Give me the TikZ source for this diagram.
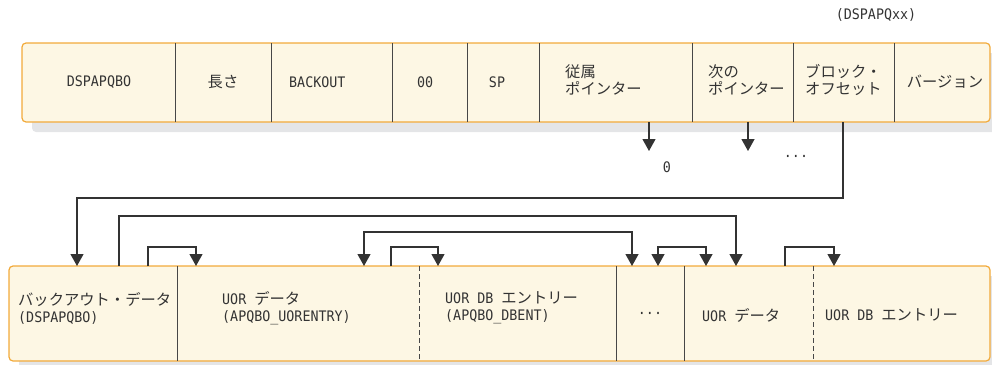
\documentclass[tikz,border=0pt]{standalone}
\usepackage{fontspec}
\setmainfont[FakeStretch=0.92]{DejaVu Sans Mono}
\newfontfamily\jpfont[Scale=1.055]{Noto Sans CJK JP}
\newcommand{\jp}[1]{{\jpfont #1}}
\usetikzlibrary{arrows.meta,shadows}
\definecolor{recfill}{HTML}{FDF7E4}
\definecolor{recline}{HTML}{F2AA3A}
\definecolor{recshade}{HTML}{E4E5E7}
\definecolor{ink}{HTML}{333333}

\begin{document}
\begin{tikzpicture}[x=1pt, y=-1pt, every node/.style={font=\fontsize{14.5}{17}\selectfont, text=ink, inner sep=0pt},
	>={Triangle[width=13pt,length=12pt]},
	rec/.style={draw=recline, line width=1.2pt, fill=recfill, rounded corners=4pt,
		drop shadow={shadow xshift=10pt, shadow yshift=-10pt, fill=recshade, opacity=1}},
	sep/.style={draw=ink!90, line width=1pt},
	link/.style={draw=ink, line width=1.2pt}]
	\useasboundingbox (0,0) rectangle (992,364);
	\node[rec, minimum width=968pt, minimum height=79pt] (hdr) at (506,82.5) {};
	\node[rec, minimum width=981pt, minimum height=95pt] (blk) at (499.5,313.5) {};
	\foreach \x in {175,271,392,467,539,692,793,894}
		\draw[sep] (\x,43) -- (\x,122);
	\foreach \x in {177,616,684}
		\draw[sep] (\x,266) -- (\x,361);
	\foreach \x in {419,813}
		\draw[sep, dashed, dash pattern=on 5pt off 3pt] (\x,266) -- (\x,361);
	\node (qxx) at (876,15) {(DSPAPQxx)};
	\node (eye) at (99,82) {DSPAPQBO};
	\node (len) at (223,82) {\jp{長さ}};
	\node[anchor=west] (bko) at (289,82) {BACKOUT};
	\node[anchor=west] (zz) at (417,82) {00};
	\node (sp) at (497,82) {SP};
	\node[anchor=west, align=left] (sub) at (565,80) {\jp{従属}\\\jp{ポインター}};
	\node[anchor=west, align=left] (nxt) at (708,80) {\jp{次の}\\\jp{ポインター}};
	\node[anchor=west, align=left] (ofs) at (805,80) {\jp{ブロック・}\\\jp{オフセット}};
	\node (ver) at (945,82) {\jp{バージョン}};
	\node (zero) at (667,167) {0};
	\node (more) at (796,158) {···};
	\node[anchor=west, align=left] (bod) at (18,308) {\jp{バックアウト・データ}\\(DSPAPQBO)};
	\node[anchor=west, align=left] (uor1) at (222,308) {UOR \jp{データ}\\(APQBO\_UORENTRY)};
	\node[anchor=west, align=left] (dbe1) at (445,308) {UOR DB \jp{エントリー}\\(APQBO\_DBENT)};
	\node (etc) at (650,315) {···};
	\node[anchor=west] (uor2) at (702,315) {UOR \jp{データ}};
	\node[anchor=west] (dbe2) at (825,315) {UOR DB \jp{エントリー}};
	\coordinate (subp) at (649,122);
	\coordinate (nxtp) at (748,122);
	\coordinate (ofsp) at (843,122);
	\coordinate (subq) at (649,151);
	\coordinate (nxtq) at (748,151);
	\foreach \n/\x in {bA/77,bB/119,bC/148,bD/196,bE/364,bF/391,bG/438,bH/632,bI/658,bJ/706,bK/736,bL/785,bM/834}
		\coordinate (\n) at (\x,266);
	\draw[link,->] (subp) -- (subq);
	\draw[link,->] (nxtp) -- (nxtq);
	\draw[link,->] (ofsp) -- ++(0,76) -| (bA);
	\draw[link,->] (bB) -- ++(0,-50) -| (bK);
	\draw[link,->] (bC) -- ++(0,-19) -| (bD);
	\draw[link,<->] (bE) -- ++(0,-34) -| (bH);
	\draw[link,->] (bF) -- ++(0,-19) -| (bG);
	\draw[link,<->] (bI) -- ++(0,-19) -| (bJ);
	\draw[link,->] (bL) -- ++(0,-19) -| (bM);
\end{tikzpicture}
\end{document}
